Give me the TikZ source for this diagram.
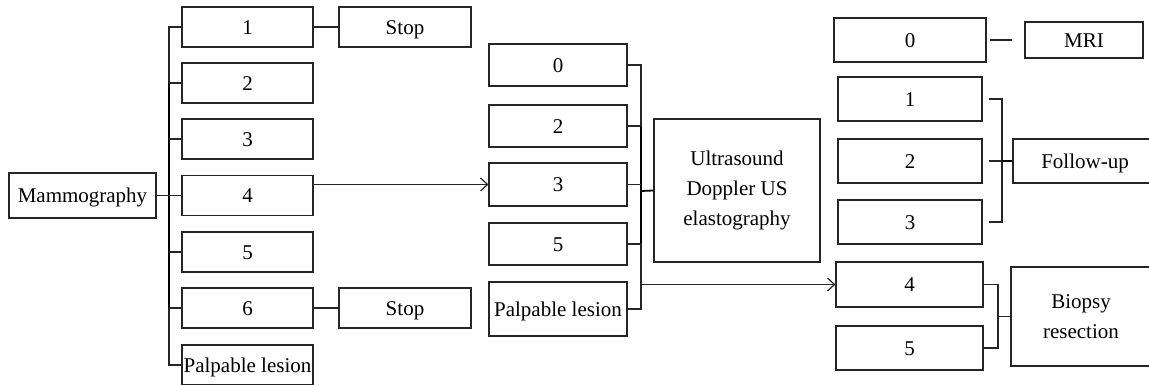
\documentclass[tikz,border=0pt]{standalone}
\usepackage{fontspec}
\setmainfont{Liberation Serif}
\usetikzlibrary{arrows.meta}
\tikzset{
  base/.style={draw=black!85, line width=1.2pt, inner sep=0pt, align=center,
    font=\fontsize{21}{30}\selectfont},
  box/.style={base, text height=14.2pt, text depth=0pt},
  tall/.style={base},
  link/.style={draw=black!85, line width=1.2pt},
  bus/.style={draw=black, line width=1.8pt},
  arr/.style={link, -{Straight Barb[length=7pt,width=13pt]}},
}
\begin{document}
\begin{tikzpicture}[x=1pt,y=-1pt]
\useasboundingbox (0,0) rectangle (1149,385);
\clip (0,0) rectangle (1149,385);
% left column
\node[box, minimum width=147pt, minimum height=45pt] (mam) at (82.5,195.5) {Mammography};
\node[box, minimum width=131pt, minimum height=40pt] (l1) at (247.5,27) {1};
\node[box, minimum width=131pt, minimum height=40pt] (l2) at (247.5,83) {2};
\node[box, minimum width=131pt, minimum height=40pt] (l3) at (247.5,139) {3};
\node[box, minimum width=131pt, minimum height=40pt] (l4) at (247.5,195.5) {4};
\node[box, minimum width=131pt, minimum height=40pt] (l5) at (247.5,252) {5};
\node[box, minimum width=131pt, minimum height=40pt] (l6) at (247.5,308) {6};
\node[box, minimum width=131pt, minimum height=40pt] (lp) at (247.5,365) {Palpable lesion};
\node[box, minimum width=132pt, minimum height=40pt] (s1) at (405,27) {Stop};
\node[box, minimum width=132pt, minimum height=40pt] (s6) at (405,308) {Stop};
% middle column
\node[box, minimum width=138pt, minimum height=42pt] (m0) at (558,65) {0};
\node[box, minimum width=138pt, minimum height=42pt] (m2) at (558,126) {2};
\node[box, minimum width=138pt, minimum height=43pt] (m3) at (558,184.5) {3};
\node[box, minimum width=138pt, minimum height=42pt] (m5) at (558,244) {5};
\node[box, minimum width=138pt, minimum height=54pt] (mp) at (558,309) {Palpable lesion};
\node[tall, minimum width=166pt, minimum height=143pt] (us) at (737,190.5) {Ultrasound\\Doppler US\\elastography};
% right column
\node[box, minimum width=152pt, minimum height=44pt] (r0) at (910,40) {0};
\node[box, minimum width=118pt, minimum height=36pt] (mri) at (1084,40) {MRI};
\node[box, minimum width=144pt, minimum height=44pt] (r1) at (910,99) {1};
\node[box, minimum width=144pt, minimum height=44pt] (r2) at (910,161) {2};
\node[box, minimum width=144pt, minimum height=44pt] (r3) at (910,222) {3};
\node[box, minimum width=144pt, minimum height=44pt] (fu) at (1085,161) {Follow-up};
\node[box, minimum width=147pt, minimum height=45pt] (r4) at (909.5,284.5) {4};
\node[box, minimum width=147pt, minimum height=44pt] (r5) at (909.5,348) {5};
\node[tall, minimum width=140pt, minimum height=99pt] (bio) at (1081,316.5) {Biopsy\\resection};
% left bus
\coordinate (lb) at (169,195.5);
\draw[link] (l1.west) -- (l1.west -| lb) -- (lp.west -| lb) -- (lp.west);
\draw[bus] (l2.west -| lb) -- (l6.west -| lb);
\foreach \n in {l2,l3,l4,l5,l6} \draw[link] (\n.west) -- (\n.west -| lb);
\draw[link] (mam.east) -- (l4.west);
\draw[link] (l1.east) -- (s1.west);
\draw[link] (l6.east) -- (s6.west);
\draw[arr] (l4.east |- m3.west) -- (m3.west);
% middle bus
\coordinate (mb) at (641,191);
\draw[link] (m0.east) -- (m0.east -| mb) -- (mp.east -| mb) -- (mp.east);
\draw[bus] (m2.east -| mb) -- (m5.east -| mb);
\foreach \n in {m2,m3,m5} \draw[link] (\n.east) -- (\n.east -| mb);
\draw[bus] (mb) -- (us.west);
\draw[arr] (r4.west -| mb) -- (r4.west);
% right side
\draw[link, shorten <=3pt, shorten >=12pt] (r0.east) -- (mri.west);
\coordinate (fb) at (1002,161);
\draw[link] ([xshift=6pt]r1.east) -| (fb) |- ([xshift=6pt]r3.east);
\draw[link] ([xshift=6pt]r2.east) -- (fu.west);
\draw[bus] (fb) -- (fu.west);
\coordinate (bb) at (998,316.5);
\draw[link] (r4.east) -| (bb) |- (r5.east);
\draw[link] (bb) -- (bio.west);
\end{tikzpicture}
\end{document}
